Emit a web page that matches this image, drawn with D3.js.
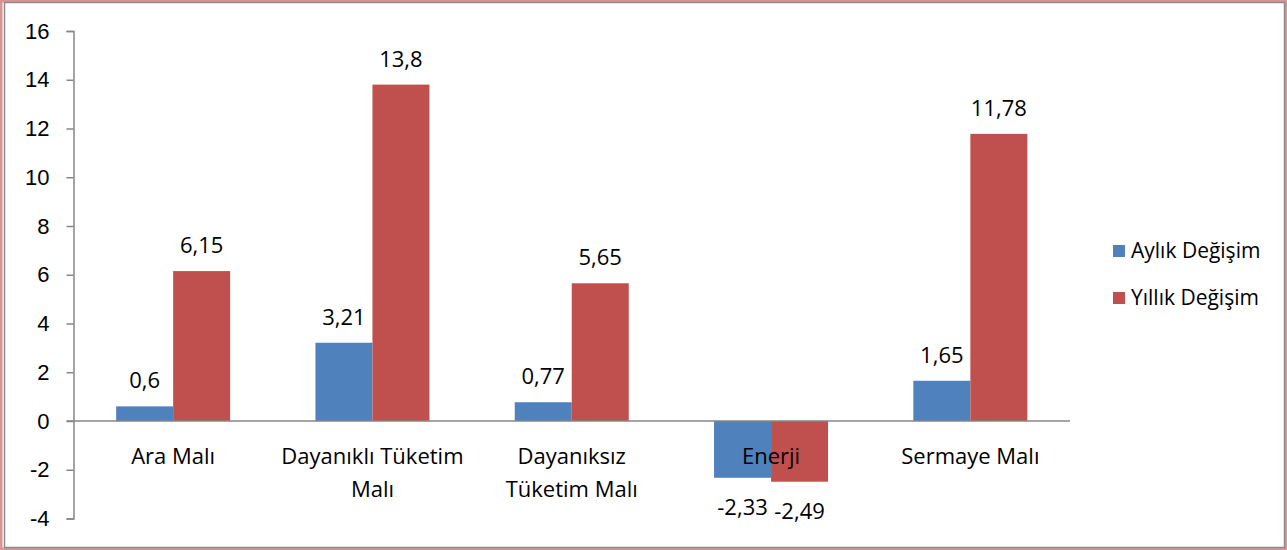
<!DOCTYPE html>
<html>
<head>
<meta charset="utf-8">
<style>
  body { margin: 0; background: #fff; }
  svg { display: block; font-family: "Open Sans", "Noto Sans", sans-serif; }
  .axis path, .axis line { stroke: #868686; }
  .axis text { fill: #000; font-size: 22px; }
</style>
<script src="https://cdn.jsdelivr.net/npm/d3@7"></script>
</head>
<body>
<svg id="chart" width="1287" height="550"></svg>
<script>
// veriler
const categories = ["Ara Malı", "Dayanıklı Tüketim Malı", "Dayanıksız Tüketim Malı", "Enerji", "Sermaye Malı"];
const catLines = [["Ara Malı"], ["Dayanıklı Tüketim", "Malı"], ["Dayanıksız", "Tüketim Malı"], ["Enerji"], ["Sermaye Malı"]];
const seriesNames = ["Aylık Değişim", "Yıllık Değişim"];
const aylik = [0.6, 3.21, 0.77, -2.33, 1.65];
const yillik = [6.15, 13.8, 5.65, -2.49, 11.78];
const yTicks = [-4, -2, 0, 2, 4, 6, 8, 10, 12, 14, 16];
const colors = ["#4F81BD", "#C0504D"];

const svg = d3.select("#chart");

// çerçeve
svg.append("rect").attr("x", 1).attr("y", 1).attr("width", 1285).attr("height", 548)
  .attr("fill", "none").attr("stroke", "#D99594").attr("stroke-width", 3);
svg.append("rect").attr("x", 4.5).attr("y", 2.5).attr("width", 1280).attr("height", 545)
  .attr("fill", "#fff").attr("stroke", "#8C8C8C").attr("stroke-width", 1.5);

const plotLeft = 73.5, plotRight = 1070, plotTop = 31, plotBottom = 518.5;

const y = d3.scaleLinear().domain([-4, 16]).range([plotBottom, plotTop]);
const x0 = d3.scaleBand().domain(categories).range([plotLeft, plotRight])
  .paddingInner(0.428).paddingOuter(0.214);
const x1 = d3.scaleBand().domain(seriesNames).range([0, x0.bandwidth()]);

// y ekseni
const yAxis = svg.append("g").attr("class", "axis")
  .attr("transform", "translate(" + plotLeft + ",0)")
  .call(d3.axisLeft(y).tickValues(yTicks).tickFormat(d => String(d))
    .tickSize(7).tickPadding(17).tickSizeOuter(7));
yAxis.selectAll("path, line").attr("stroke-width", 1.5);

const data = categories.map((c, i) => ({ cat: c, values: [aylik[i], yillik[i]] }));

const groups = svg.selectAll("g.grp").data(data).enter().append("g")
  .attr("class", "grp")
  .attr("transform", d => "translate(" + x0(d.cat) + ",0)");

groups.selectAll("rect").data(d => d.values.map((v, j) => ({ v: v, s: seriesNames[j], j: j })))
  .enter().append("rect")
  .attr("x", d => x1(d.s))
  .attr("width", x1.bandwidth())
  .attr("y", d => y(Math.max(0, d.v)))
  .attr("height", d => Math.abs(y(d.v) - y(0)))
  .attr("fill", d => colors[d.j]);

// sıfır çizgisi
svg.append("line").attr("x1", plotLeft - 7).attr("x2", plotRight)
  .attr("y1", y(0)).attr("y2", y(0))
  .attr("stroke", "#868686").attr("stroke-width", 1.5);

// kategori etiketleri
svg.selectAll("text.cat").data(catLines).enter().append("text")
  .attr("class", "cat")
  .attr("x", (d, i) => x0(categories[i]) + x0.bandwidth() / 2)
  .attr("y", y(0) + 43)
  .attr("text-anchor", "middle")
  .attr("font-size", 22)
  .each(function (d) {
    d.forEach((line, k) => {
      d3.select(this).append("tspan")
        .attr("x", d3.select(this).attr("x"))
        .attr("dy", k === 0 ? 0 : 33)
        .text(line);
    });
  });

// değer etiketleri
groups.selectAll("text.val").data(d => d.values.map((v, j) => ({ v: v, s: seriesNames[j] })))
  .enter().append("text")
  .attr("class", "val")
  .attr("x", d => x1(d.s) + x1.bandwidth() / 2)
  .attr("y", d => d.v >= 0 ? y(d.v) - 18 : y(d.v) + 37)
  .attr("text-anchor", "middle")
  .attr("font-size", 22)
  .text(d => String(d.v).replace(".", ","));

// lejant
const legend = svg.selectAll("g.leg").data(seriesNames).enter().append("g")
  .attr("class", "leg")
  .attr("transform", (d, i) => "translate(1113," + (245 + i * 47) + ")");
legend.append("rect").attr("width", 12).attr("height", 12).attr("fill", (d, i) => colors[i]);
legend.append("text").attr("x", 18).attr("y", 13).attr("font-size", 21).text(d => d);
</script>
</body>
</html>
